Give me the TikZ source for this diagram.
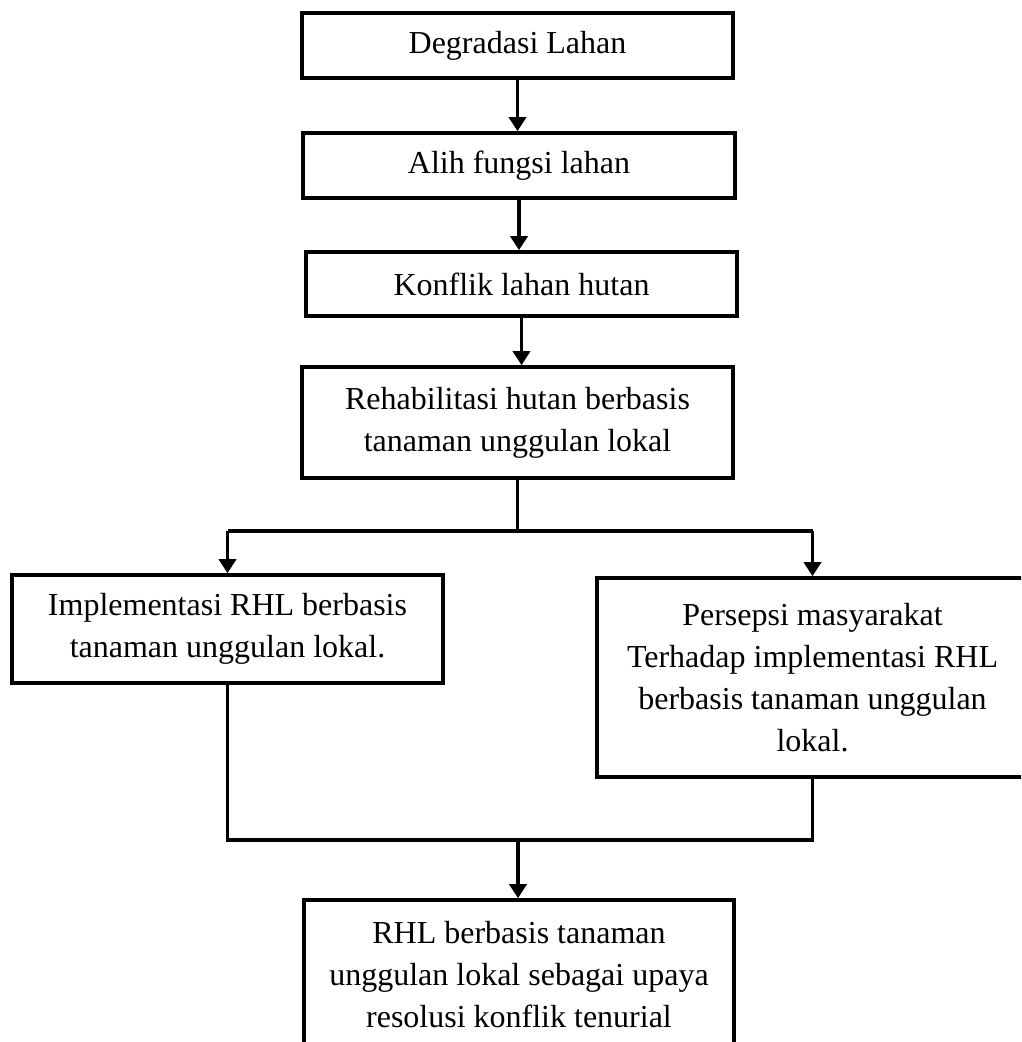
\documentclass[tikz,border=0pt]{standalone}
\usepackage{fontspec}
\setmainfont{Liberation Serif}
\usetikzlibrary{arrows.meta}
\begin{document}
\begin{tikzpicture}[x=0.5pt,y=-0.5pt,
  box/.style={draw, line width=1.8pt, rectangle, inner sep=0pt, align=center,
    font=\fontsize{16}{21}\selectfont},
  conn/.style={line width=1.8pt},
  arr/.style={line width=1.8pt, -{Triangle[length=7pt,width=8.5pt]}}]
\clip (0,0) rectangle (1021,1042);
\fill[white] (0,0) rectangle (1021,1042);
\node[box, minimum width=215.5pt, minimum height=32.5pt] (b1) at (517.5,45.5) {Degradasi Lahan};
\node[box, minimum width=216pt, minimum height=32.5pt] (b2) at (519,165.5) {Alih fungsi lahan};
\node[box, minimum width=215.5pt, minimum height=32pt] (b3) at (521.5,284) {Konflik lahan hutan};
\node[box, minimum width=215.5pt, minimum height=55.5pt] (b4) at (517.5,422.5) {Rehabilitasi hutan berbasis\\tanaman unggulan lokal};
\node[box, minimum width=215.5pt, minimum height=54pt] (b5) at (227.5,629) {Implementasi RHL berbasis\\tanaman unggulan lokal.};
\node[box, minimum width=215.5pt, minimum height=99.5pt] (b6) at (812.5,677.5) {Persepsi masyarakat\\Terhadap implementasi RHL\\berbasis tanaman unggulan\\lokal.};
\node[box, minimum width=215pt, minimum height=75pt] (b7) at (519,975) {RHL berbasis tanaman\\unggulan lokal sebagai upaya\\resolusi konflik tenurial};
\coordinate (split) at (517.5,531);
\coordinate (join) at (518,840);
\draw[arr] (b1.south) -- (b1.south |- b2.north);
\draw[arr] (b2.south) -- (b2.south |- b3.north);
\draw[arr] (b3.south) -- (b3.south |- b4.north);
\draw[conn] (b4.south) -- (split);
\draw[conn] (b5.north |- split) -- (b6.north |- split);
\draw[arr] (b5.north |- split) -- (b5.north);
\draw[arr] (b6.north |- split) -- (b6.north);
\draw[conn, line join=miter] (b5.south) -- (b5.south |- join) -- (b6.south |- join) -- (b6.south);
\draw[arr] (join) -- (join |- b7.north);
\end{tikzpicture}
\end{document}
